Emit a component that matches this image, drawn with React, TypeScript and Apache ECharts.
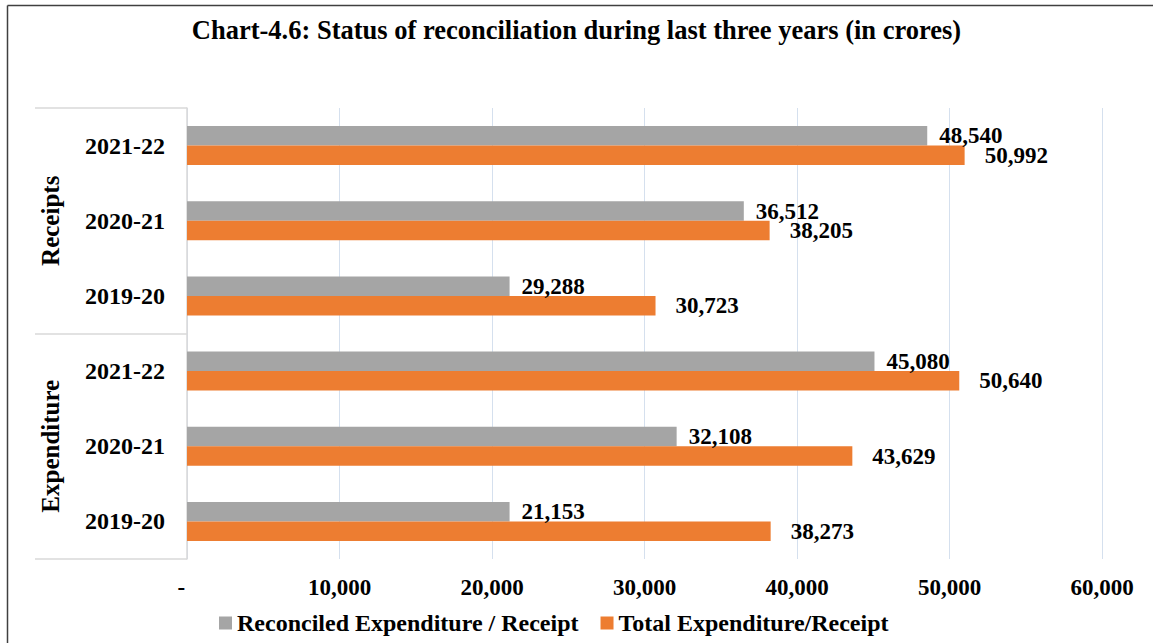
import React, { useEffect, useRef } from "react";
import * as echarts from "echarts";

const titleText = "Chart-4.6: Status of reconciliation during last three years (in crores)";
const groups = ["Receipts", "Expenditure"];
const years = ["2021-22", "2020-21", "2019-20", "2021-22", "2020-21", "2019-20"];
const seriesNames = ["Reconciled Expenditure / Receipt", "Total Expenditure/Receipt"];
// bar lengths as drawn
const reconciled = [48540, 36512, 21153, 45080, 32108, 21153];
const total = [50992, 38205, 30723, 50640, 43629, 38273];
// data label texts as printed
const reconciledLabels = [48540, 36512, 29288, 45080, 32108, 21153];
const totalLabels = [50992, 38205, 30723, 50640, 43629, 38273];
const xTicks = [0, 10000, 20000, 30000, 40000, 50000, 60000];

const FONT = '"Liberation Serif", "Times New Roman", serif';
const fmt = (v: number) => (v === 0 ? "-  " : v.toLocaleString("en-US"));

export default function App() {
  const ref = useRef<HTMLDivElement>(null);
  useEffect(() => {
    if (!ref.current) return;
    const chart = echarts.init(ref.current, null, { renderer: "svg" });
    const gridTop = 108;
    const gridBottom = 643 - 559;
    const gridLeft = 187;
    const plotH = 559 - 108;
    chart.setOption({
      animation: false,
      backgroundColor: "#ffffff",
      title: {
        text: titleText,
        left: "center",
        top: 11,
        textStyle: { fontFamily: FONT, fontSize: 26.5, fontWeight: "bold", color: "#000" },
      },
      legend: {
        bottom: 3,
        left: 214,
        itemWidth: 13,
        itemHeight: 13,
        itemGap: 22,
        icon: "rect",
        textStyle: { fontFamily: FONT, fontSize: 24, fontWeight: "bold", color: "#000" },
        data: seriesNames,
      },
      grid: { left: gridLeft, right: 1153 - 1102, top: gridTop, bottom: gridBottom, containLabel: false },
      xAxis: {
        type: "value",
        min: xTicks[0],
        max: xTicks[xTicks.length - 1],
        interval: 10000,
        axisLine: { show: false },
        axisTick: { show: false },
        splitLine: { show: true, lineStyle: { color: "#d5e0ee", width: 1 } },
        axisLabel: {
          margin: 17,
          fontFamily: FONT,
          fontSize: 23,
          fontWeight: "bold",
          color: "#000",
          formatter: (v: number) => fmt(v),
        },
      },
      yAxis: [
        {
          type: "category",
          data: years,
          inverse: true,
          axisLine: { show: false },
          axisTick: { show: false },
          axisLabel: {
            margin: 22,
            fontFamily: FONT,
            fontSize: 24,
            fontWeight: "bold",
            color: "#000",
          },
        },
        {
          type: "category",
          data: groups,
          inverse: true,
          position: "left",
          axisLine: { show: true, lineStyle: { color: "#d9d9d9", width: 1.5 } },
          axisTick: { show: true, length: 152, lineStyle: { color: "#d9d9d9", width: 1.5 } },
          axisLabel: { show: false },
        },
      ],
      series: [
        {
          name: seriesNames[0],
          type: "bar",
          data: reconciled,
          barWidth: 19.5,
          barGap: "0%",
          barCategoryGap: "48%",
          itemStyle: { color: "#a5a5a5" },
          label: {
            show: true,
            position: "right",
            distance: 12,
            fontFamily: FONT,
            fontSize: 23,
            lineHeight: 18,
            fontWeight: "bold",
            color: "#000",
            formatter: (p: any) => fmt(reconciledLabels[p.dataIndex]),
          },
        },
        {
          name: seriesNames[1],
          type: "bar",
          data: total,
          barWidth: 19.5,
          barGap: "0%",
          itemStyle: { color: "#ed7d31" },
          label: {
            show: true,
            position: "right",
            distance: 20,
            fontFamily: FONT,
            fontSize: 23,
            lineHeight: 18,
            fontWeight: "bold",
            color: "#000",
            formatter: (p: any) => fmt(totalLabels[p.dataIndex]),
          },
        },
      ],
      graphic: [
        {
          type: "line",
          shape: { x1: 7.5, y1: 5.5, x2: 1153, y2: 5.5 },
          style: { stroke: "#404040", lineWidth: 1.5 },
          silent: true,
        },
        {
          type: "line",
          shape: { x1: 7.5, y1: 5.5, x2: 7.5, y2: 643 },
          style: { stroke: "#404040", lineWidth: 1.5 },
          silent: true,
        },
        ...groups.map((g, i) => ({
          type: "text",
          x: 50,
          y: gridTop + (plotH / groups.length) * (i + 0.5),
          rotation: Math.PI / 2,
          style: {
            text: g,
            align: "center",
            verticalAlign: "middle",
            font: `bold 25px ${FONT}`,
            fill: "#000",
          },
          silent: true,
        })),
      ],
    });
    return () => chart.dispose();
  }, []);
  return (
    <div
      ref={ref}
      style={{ position: "fixed", left: 0, top: 0, width: 1153, height: 643 }}
    />
  );
}
